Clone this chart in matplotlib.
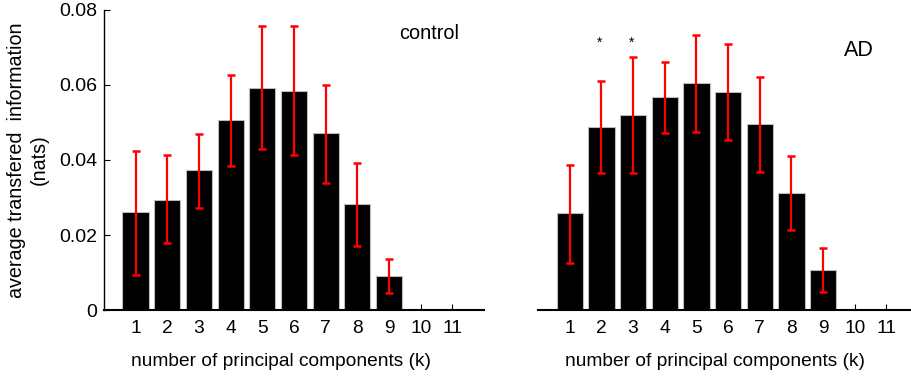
import numpy as np
import matplotlib
matplotlib.use("Agg")
import matplotlib.pyplot as plt

plt.rcParams['font.family'] = ['Liberation Sans', 'DejaVu Sans']

# number of principal components
k = np.arange(1, 12)

# control group: mean transferred information and error bar ends
control_mean = [0.0261, 0.0294, 0.0373, 0.0507, 0.0591, 0.0585, 0.0471, 0.0283, 0.0092, 0, 0]
control_hi = [0.0425, 0.0412, 0.0470, 0.0627, 0.0757, 0.0757, 0.0601, 0.0391, 0.0137, 0, 0]
control_lo = [0.0093, 0.0180, 0.0272, 0.0385, 0.0430, 0.0413, 0.0339, 0.0171, 0.0046, 0, 0]

# AD group
ad_mean = [0.0258, 0.0489, 0.0520, 0.0568, 0.0604, 0.0582, 0.0496, 0.0313, 0.0108, 0, 0]
ad_hi = [0.0387, 0.0611, 0.0674, 0.0662, 0.0734, 0.0710, 0.0620, 0.0411, 0.0165, 0, 0]
ad_lo = [0.0126, 0.0365, 0.0365, 0.0471, 0.0474, 0.0452, 0.0369, 0.0214, 0.0049, 0, 0]

# significant components marked with a star
star_k = [2, 3]
star_y = 0.0712


def draw_panel(ax, mean, lo, hi):
    mean = np.array(mean)
    lo = np.array(lo)
    hi = np.array(hi)
    n = 9  # components with nonzero values get error bars
    ax.bar(k, mean, width=0.83, color='black', edgecolor='#bbbbbb', linewidth=0.8, zorder=2)
    ax.errorbar(k[:n], mean[:n], yerr=[mean[:n] - lo[:n], hi[:n] - mean[:n]],
                fmt='none', ecolor='red', elinewidth=1.6, capsize=3.2, capthick=1.8, zorder=3)
    ax.set_xlim(0, 12)
    ax.set_ylim(0, 0.08)
    ax.set_xticks(k)
    ax.tick_params(direction='in', length=4, labelsize=13.8, width=0.8)
    ax.tick_params(axis='x', pad=7)
    for s in ['top', 'right']:
        ax.spines[s].set_visible(False)
    ax.spines['bottom'].set_linewidth(1.5)
    ax.set_xlabel('number of principal components (k)', fontsize=13.8, labelpad=12)
    ax.xaxis.label.set_x(0.465)


fig = plt.figure(figsize=(9.12, 3.77), dpi=100)
ax1 = fig.add_axes([0.114, 0.1777, 0.4167, 0.7958])
ax2 = fig.add_axes([0.590, 0.1777, 0.4167, 0.7958])

draw_panel(ax1, control_mean, control_lo, control_hi)
ax1.set_yticks([0, 0.02, 0.04, 0.06, 0.08])
ax1.set_yticklabels(['0', '0.02', '0.04', '0.06', '0.08'])
ax1.tick_params(axis='y', labelsize=14, pad=5)
ax1.spines['left'].set_linewidth(1.0)
ax1.set_ylabel('average transfered  information\n(nats)', fontsize=14.2, labelpad=7, linespacing=1.25)
ax1.text(0.934, 0.92, 'control', transform=ax1.transAxes, fontsize=14.3, ha='right', va='center')

draw_panel(ax2, ad_mean, ad_lo, ad_hi)
ax2.spines['left'].set_visible(False)
ax2.set_yticks([])
ax2.text(0.884, 0.865, 'AD', transform=ax2.transAxes, fontsize=15.5, ha='right', va='center')
for sk in star_k:
    ax2.text(sk - 0.05, star_y, '*', fontsize=10, ha='center', va='center')

fig.savefig('out.png', dpi=100)
